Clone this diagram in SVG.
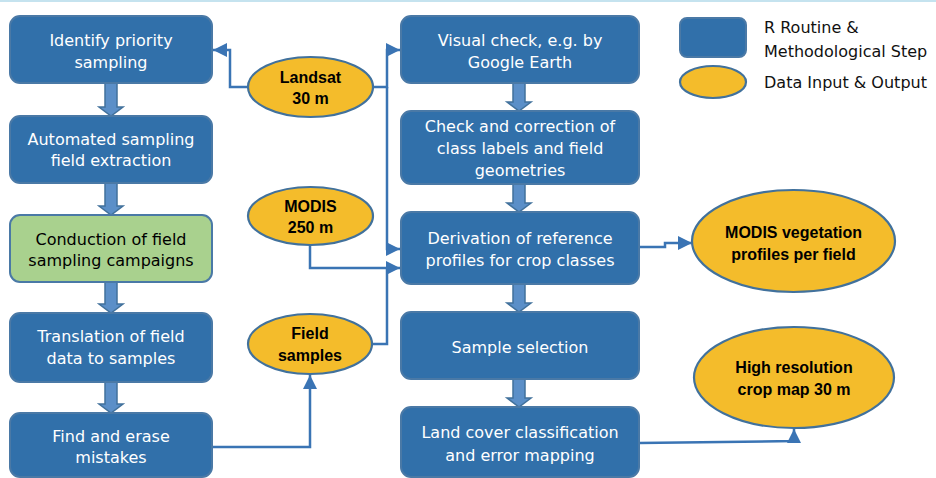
<svg xmlns="http://www.w3.org/2000/svg" width="936" height="478" viewBox="0 0 936 478">
<style>
.box{fill:#3170aa;stroke:#4a79a6;stroke-width:2}
.gbox{fill:#a9d18e;stroke:#4a79a6;stroke-width:2}
.ell{fill:#f4bc2b;stroke:#41719c;stroke-width:2.2}
.blk{fill:#5b8fc8;stroke:#41719c;stroke-width:1.5}
.wt{font-family:"DejaVu Sans",Verdana,sans-serif;font-size:16px;fill:#ffffff;text-anchor:middle}
.bt{font-family:"DejaVu Sans",Verdana,sans-serif;font-size:16px;fill:#000000;text-anchor:middle}
.et{font-family:"Liberation Sans",Arial,sans-serif;font-size:16px;font-weight:bold;fill:#000000;text-anchor:middle}
.lt{font-family:"DejaVu Sans",Verdana,sans-serif;font-size:16px;fill:#111111}
.con{fill:none;stroke:#3a74b4;stroke-width:2.5}
</style>
<defs>
<marker id="ah" viewBox="0 0 10 10" markerUnits="userSpaceOnUse" markerWidth="15" markerHeight="14" refX="10" refY="5" orient="auto">
<path d="M0,0 L10,5 L0,10 Z" fill="#3a74b4"/>
</marker>
</defs>
<rect x="0" y="0" width="936" height="2" fill="#c5e3ef"/>

<g id="legend">
<rect x="680" y="18" width="66" height="39" rx="7" class="box"/>
<ellipse cx="713" cy="82" rx="33" ry="16" class="ell"/>
<text x="764" y="33" class="lt">R Routine &amp;</text>
<text x="764" y="57" class="lt">Methodological Step</text>
<text x="764" y="88" class="lt">Data Input &amp; Output</text>
</g>

<g id="connectors">
<path class="blk" d="M105,83 H117 V107 H123 L111,116 L99,107 H105 Z"/>
<path class="blk" d="M105,183 H117 V206 H123 L111,215 L99,206 H105 Z"/>
<path class="blk" d="M105,282 H117 V304 H123 L111,313 L99,304 H105 Z"/>
<path class="blk" d="M105,382 H117 V404 H123 L111,413 L99,404 H105 Z"/>
<path class="blk" d="M513,83 H525 V102 H531 L519,111 L507,102 H513 Z"/>
<path class="blk" d="M513,184 H525 V203 H531 L519,212 L507,203 H513 Z"/>
<path class="blk" d="M513,284 H525 V303 H531 L519,312 L507,303 H513 Z"/>
<path class="blk" d="M513,379 H525 V398 H531 L519,407 L507,398 H513 Z"/>
<path class="con" d="M248,87 H230 V50 H213" marker-end="url(#ah)"/>
<path class="con" d="M373,87 H387 V50 H400" marker-end="url(#ah)"/>
<path class="con" d="M387,87 V249 H400" marker-end="url(#ah)"/>
<path class="con" d="M310,245 V268 H400" marker-end="url(#ah)"/>
<path class="con" d="M372,344 H387 V268"/>
<path class="con" d="M212,447 H310 V375" marker-end="url(#ah)"/>
<path class="con" d="M639,247 H665 V243 H692" marker-end="url(#ah)"/>
<path class="con" d="M639,443 L794,441 V429" marker-end="url(#ah)"/>
</g>

<g id="n1">
<rect x="10" y="16" width="202" height="67" rx="10" class="box"/>
<text x="111" y="46" class="wt">Identify priority</text>
<text x="111" y="68" class="wt">sampling</text>
</g>
<g id="n2">
<rect x="10" y="116" width="202" height="67" rx="10" class="box"/>
<text x="111" y="145" class="wt">Automated sampling</text>
<text x="111" y="166" class="wt">field extraction</text>
</g>
<g id="n3">
<rect x="10" y="215" width="202" height="67" rx="10" class="gbox"/>
<text x="111" y="245" class="bt">Conduction of field</text>
<text x="111" y="266" class="bt">sampling campaigns</text>
</g>
<g id="n4">
<rect x="10" y="313" width="202" height="69" rx="10" class="box"/>
<text x="111" y="342" class="wt">Translation of field</text>
<text x="111" y="364" class="wt">data to samples</text>
</g>
<g id="n5">
<rect x="10" y="413" width="202" height="64" rx="10" class="box"/>
<text x="111" y="442" class="wt">Find and erase</text>
<text x="111" y="463" class="wt">mistakes</text>
</g>

<g id="landsat">
<ellipse cx="310.5" cy="87" rx="62.5" ry="30" class="ell"/>
<text x="310.5" y="83" class="et">Landsat</text>
<text x="310.5" y="104" class="et">30 m</text>
</g>
<g id="modis">
<ellipse cx="310.5" cy="216" rx="62.5" ry="29" class="ell"/>
<text x="310.5" y="212" class="et">MODIS</text>
<text x="310.5" y="233" class="et">250 m</text>
</g>
<g id="field">
<ellipse cx="310" cy="344" rx="62" ry="30" class="ell"/>
<text x="310" y="339" class="et">Field</text>
<text x="310" y="361" class="et">samples</text>
</g>

<g id="r1">
<rect x="401" y="16" width="238" height="67" rx="10" class="box"/>
<text x="520" y="46" class="wt">Visual check, e.g. by</text>
<text x="520" y="68" class="wt">Google Earth</text>
</g>
<g id="r2">
<rect x="401" y="111" width="238" height="73" rx="10" class="box"/>
<text x="520" y="132" class="wt">Check and correction of</text>
<text x="520" y="154" class="wt">class labels and field</text>
<text x="520" y="176" class="wt">geometries</text>
</g>
<g id="r3">
<rect x="401" y="212" width="238" height="72" rx="10" class="box"/>
<text x="520" y="244" class="wt">Derivation of reference</text>
<text x="520" y="266" class="wt">profiles for crop classes</text>
</g>
<g id="r4">
<rect x="401" y="312" width="238" height="67" rx="10" class="box"/>
<text x="520" y="353" class="wt">Sample selection</text>
</g>
<g id="r5">
<rect x="401" y="407" width="238" height="70" rx="10" class="box"/>
<text x="520" y="438" class="wt">Land cover classification</text>
<text x="520" y="461" class="wt">and error mapping</text>
</g>

<g id="modisveg">
<ellipse cx="793.5" cy="241" rx="101.5" ry="51" class="ell"/>
<text x="793.5" y="238" class="et">MODIS vegetation</text>
<text x="793.5" y="260" class="et">profiles per field</text>
</g>
<g id="highres">
<ellipse cx="794" cy="377.5" rx="100" ry="50.5" class="ell"/>
<text x="794" y="373" class="et">High resolution</text>
<text x="794" y="395" class="et">crop map 30 m</text>
</g>
</svg>
